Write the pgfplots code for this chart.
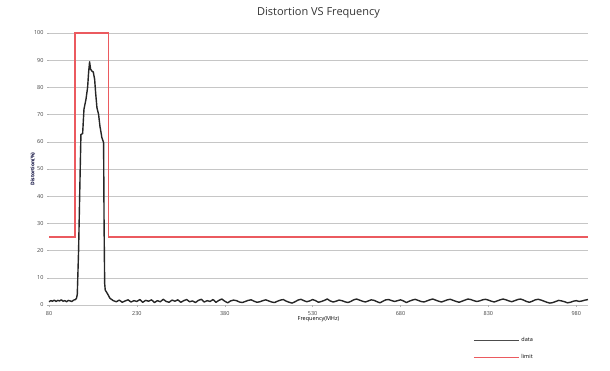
\documentclass[border=0pt]{standalone}
\usepackage{fontspec}
\setmainfont{Open Sans}
\usepackage{pgfplots}
\pgfplotsset{compat=1.18}
\definecolor{limitred}{RGB}{235,90,95}
\begin{document}
\begin{tikzpicture}[x=1pt,y=1pt]
\path[use as bounding box] (-49,-65) rectangle (561,305);
\begin{axis}[
  at={(0,0)}, anchor=south west,
  scale only axis, width=539pt, height=272pt,
  xmin=80, xmax=1000, ymin=0, ymax=100,
  clip=false,
  xtick={80,230,380,530,680,830,980},
  ytick={0,10,...,100},
  axis line style={draw=none},
  tick style={draw=gray!60, thin},
  major tick length=2pt,
  xtick pos=bottom, ytick pos=left,
  tick align=outside,
  ymajorgrids, grid style={gray!45, line width=0.6pt},
  /pgf/number format/assume math mode=true,
  ticklabel style={font=\fontsize{5.5}{6.5}\selectfont, text=black!75},
  xticklabel style={yshift=-1pt},
  title={Distortion VS Frequency},
  title style={font=\fontsize{11}{13}\selectfont, text=black!80, at={(0.5,1)}, yshift=5pt},
  xlabel={Frequency(MHz)},
  xlabel style={font=\fontsize{5.5}{6.5}\selectfont, yshift=6pt},
  ylabel={\textbf{Distortion(\%)}},
  ylabel style={font=\fontsize{5}{6}\selectfont, text=black!80!blue, yshift=-8pt},
  legend style={at={(0.781,-0.105)}, anchor=north west, draw=none, fill=none,
    font=\fontsize{5.5}{6.5}\selectfont, row sep=7pt, legend cell align=left},
  legend image code/.code={\draw[#1] (0pt,0pt) -- (45pt,0pt);},
]
\addlegendimage{draw=black!70, line width=1pt}
\addlegendentry{data}
\addlegendimage{draw=limitred, line width=1.3pt}
\addlegendentry{limit}
\addplot[forget plot, black!85, line width=1.4pt, line join=round] coordinates {
(80,1.2)(83,1.6)(86,1.4)(89,1.8)(92,1.3)(95,1.7)(98,1.5)(101,1.9)(104,1.4)(107,1.6)
(110,1.2)(113,1.7)(116,1.5)(119,1.3)(122,1.8)(125,2.0)(127,2.5)(128.3,4.0)(130.5,20)
(132.8,45)(134.5,62.7)(137.4,63)(139.7,72)(143.1,75.6)(145.9,80)(147.6,85.5)(149.3,89.4)
(151,86.7)(153.3,86)(155.5,85.7)(157.9,83)(159.6,78)(161.8,72.6)(164.7,70)(166.9,65.8)
(170.3,61.5)(173.2,59.7)(174.0,30)(175.0,8)(176.0,5.5)(179.4,4.3)(184,2.5)(189.6,1.6)
(195,1.2)(200,1.8)(205,1.0)(210,1.5)(215,1.9)(220,1.1)(225,1.6)(230,1.3)(235,2.0)(240,1.0)
(245,1.7)(250,1.4)(255,1.9)(260,0.9)(265,1.6)(270,1.2)(275,2.1)(280,1.3)(285,1.0)(290,1.8)
(295,1.4)(300,1.9)(305,1.0)(310,1.6)(315,2.0)(320,1.2)(325,1.5)(330,0.9)(335,1.7)(340,2.1)
(345,1.1)(350,1.6)(355,1.3)(360,2.0)(365,1.0)(370,1.7)(375,2.2)(380,1.4)(385,0.8)(390,1.5)
(395,1.8)(400,1.6)(405,1.1)(410,0.9)(415,1.3)(420,1.7)(425,1.9)(430,1.4)(435,1.0)(440,1.2)
(445,1.6)(450,1.9)(455,1.5)(460,1.1)(465,0.9)(470,1.4)(475,1.8)(480,2.0)(485,1.4)(490,1.0)
(495,0.7)(500,1.2)(505,1.8)(510,2.1)(515,1.6)(520,1.2)(525,1.5)(530,2.0)(535,1.6)(540,1.0)
(545,1.3)(550,1.7)(555,2.2)(560,1.5)(565,1.1)(570,1.4)(575,1.8)(580,1.6)(585,1.2)(590,0.9)
(595,1.3)(600,1.9)(605,2.2)(610,1.8)(615,1.4)(620,1.1)(625,1.5)(630,1.9)(635,1.7)(640,1.2)
(645,0.8)(650,1.4)(655,1.9)(660,2.0)(665,1.6)(670,1.3)(675,1.6)(680,1.9)(685,1.5)(690,0.9)
(695,1.4)(700,1.8)(705,2.1)(710,1.7)(715,1.3)(720,1.1)(725,1.5)(730,1.9)(735,2.2)(740,1.8)
(745,1.4)(750,1.1)(755,1.5)(760,1.9)(765,2.1)(770,1.7)(775,1.3)(780,1.0)(785,1.4)(790,1.8)
(795,2.2)(800,2.0)(805,1.6)(810,1.3)(815,1.5)(820,1.9)(825,2.1)(830,1.8)(835,1.4)(840,1.1)
(845,1.5)(850,1.9)(855,2.2)(860,1.9)(865,1.5)(870,1.2)(875,1.6)(880,2.0)(885,2.2)(890,1.8)
(895,1.3)(900,1.0)(905,1.4)(910,1.9)(915,2.1)(920,1.8)(925,1.4)(930,1.0)(935,0.7)(940,0.9)
(945,1.3)(950,1.7)(955,1.5)(960,1.2)(965,0.8)(970,1.0)(975,1.4)(980,1.6)(985,1.3)(990,1.5)
(995,1.8)(1000,2.0)
};
\addplot[forget plot, draw=limitred, line width=1.2pt] coordinates {
(80,25)(124.5,25)(124.5,100)(182,100)(182,25)(1000,25)
};
\end{axis}
\end{tikzpicture}
\end{document}
